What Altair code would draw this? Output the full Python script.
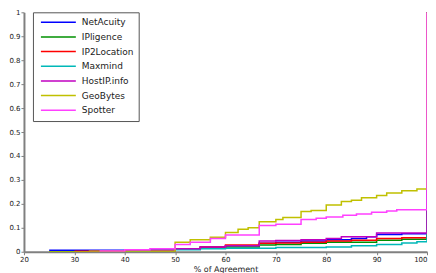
import altair as alt
import pandas as pd

series_names = ["NetAcuity", "IPligence", "IP2Location", "Maxmind", "HostIP.info", "GeoBytes", "Spotter"]
colors = ["#0000ff", "#009000", "#ff0000", "#00b8b8", "#c000c0", "#c0c000", "#ff40ff"]

netacuity_x = [25, 40, 50, 55, 60, 66.7, 70, 75, 80, 85, 88, 90, 95, 100, 100]
netacuity_y = [0.006, 0.007, 0.012, 0.02, 0.025, 0.035, 0.04, 0.045, 0.05, 0.055, 0.063, 0.072, 0.075, 0.075, 1.0]

ipligence_x = [25, 40, 50, 55, 60, 66.7, 70, 75, 80, 90, 95, 100, 100]
ipligence_y = [0.0, 0.003, 0.01, 0.015, 0.02, 0.028, 0.03, 0.035, 0.04, 0.048, 0.052, 0.052, 1.0]

ip2location_x = [30, 40, 50, 55, 60, 66.7, 70, 75, 80, 85, 90, 95, 100, 100]
ip2location_y = [0.002, 0.005, 0.012, 0.02, 0.028, 0.035, 0.037, 0.04, 0.045, 0.048, 0.055, 0.058, 0.06, 1.0]

maxmind_x = [40, 45, 50, 55, 60, 70, 80, 85, 90, 95, 98, 100, 100]
maxmind_y = [0.002, 0.005, 0.008, 0.012, 0.015, 0.018, 0.02, 0.025, 0.03, 0.037, 0.042, 0.042, 1.0]

hostip_x = [33, 40, 50, 55, 60, 66.7, 70, 75, 80, 83, 90, 100, 100]
hostip_y = [0.002, 0.005, 0.012, 0.02, 0.025, 0.045, 0.047, 0.05, 0.055, 0.063, 0.078, 0.08, 1.0]

geobytes_x = [25, 33, 50, 53, 57, 60, 62.5, 64.5, 66.7, 70, 71.4, 75, 77, 80, 83, 85, 87, 90, 92, 95, 98, 100, 100]
geobytes_y = [0.0, 0.002, 0.04, 0.05, 0.06, 0.08, 0.094, 0.1, 0.125, 0.135, 0.143, 0.168, 0.172, 0.195, 0.21, 0.215,
              0.225, 0.235, 0.245, 0.255, 0.262, 0.265, 1.0]

spotter_x = [35, 40, 45, 50, 53, 57, 60, 66.7, 70, 75, 78, 80, 83.3, 86, 89, 92, 94, 100, 100]
spotter_y = [0.003, 0.008, 0.012, 0.03, 0.04, 0.055, 0.07, 0.11, 0.115, 0.135, 0.14, 0.145, 0.152, 0.158, 0.165,
             0.17, 0.175, 0.175, 1.0]

xs = [netacuity_x, ipligence_x, ip2location_x, maxmind_x, hostip_x, geobytes_x, spotter_x]
ys = [netacuity_y, ipligence_y, ip2location_y, maxmind_y, hostip_y, geobytes_y, spotter_y]

rows = []
for name, xv, yv in zip(series_names, xs, ys):
    for i, (a, b) in enumerate(zip(xv, yv)):
        rows.append({"series": name, "x": a, "y": b, "i": i})
df = pd.DataFrame(rows)

x_ticks = [20, 30, 40, 50, 60, 70, 80, 90, 100]
y_ticks = [0, 0.1, 0.2, 0.3, 0.4, 0.5, 0.6, 0.7, 0.8, 0.9, 1.0]

font = "DejaVu Sans"

chart = alt.Chart(df).mark_line(interpolate="step-after", strokeWidth=1.5, clip=True).encode(
    x=alt.X("x:Q", scale=alt.Scale(domain=[20, 100], nice=False),
            axis=alt.Axis(title="% of Agreement", values=x_ticks, grid=False, format="d",
                          labelAlign=alt.condition("datum.value == 100", alt.value("right"), alt.value("center")))),
    y=alt.Y("y:Q", scale=alt.Scale(domain=[0, 1], nice=False),
            axis=alt.Axis(title=None, values=y_ticks, grid=False, format="~g")),
    color=alt.Color("series:N", sort=series_names,
                    scale=alt.Scale(domain=series_names, range=colors),
                    legend=alt.Legend(title=None, orient="none", legendX=9, legendY=0,
                                      symbolType="stroke", symbolSize=1225, symbolStrokeWidth=1.5,
                                      symbolOffset=2, labelOffset=5,
                                      clipHeight=10, rowPadding=4.7,
                                      labelFont=font, labelFontSize=9, labelColor="#222222",
                                      strokeColor="#555555", padding=5, fillColor="white",
                                      labelExpr="datum.label + '             '")),
    order="i:Q",
).properties(width=404, height=240, padding=0)

chart = chart.configure_view(stroke=None).configure_axis(
    domainColor="#808080", domainWidth=2, tickColor="#808080", tickSize=3, tickWidth=1,
    labelFont=font, labelFontSize=7, labelColor="#222222", labelPadding=1,
    titleFont=font, titleFontSize=8, titleFontWeight="normal", titleColor="#222222", titlePadding=3,
)

chart.save("out.html", embed_options={"renderer": "svg", "actions": False})
